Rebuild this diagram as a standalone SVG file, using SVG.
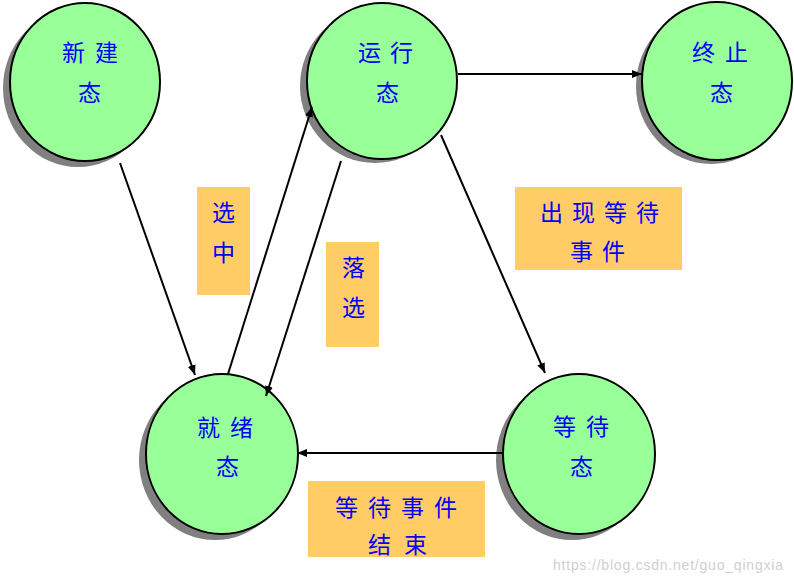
<svg xmlns="http://www.w3.org/2000/svg" width="794" height="581" viewBox="0 0 794 581">
<style>
.sh{fill:#808080}
.st{fill:#99FF99;stroke:#000;stroke-width:2}
.t{font-family:"Noto Sans CJK SC","Noto Sans CJK JP",sans-serif;font-size:23px;fill:#0000FF}
.box{fill:#FFCC66}
.ln{stroke:#000;stroke-width:2;fill:none;marker-end:url(#ah)}
</style>
<defs>
<marker id="ah" viewBox="0 0 10 8" refX="10" refY="4" markerWidth="10" markerHeight="8" markerUnits="userSpaceOnUse" orient="auto">
<path d="M0,0 L10,4 L0,8 Z" fill="#000"/>
</marker>
</defs>
<rect width="794" height="581" fill="#fff"/>
<g id="labels">
<g id="lbl-xuanzhong"><rect class="box" x="197" y="187" width="53" height="108"/><text class="t" x="212" y="221">选</text><text class="t" x="212" y="261">中</text></g>
<g id="lbl-luoxuan"><rect class="box" x="326" y="242" width="53" height="105"/><text class="t" x="342" y="276">落</text><text class="t" x="342" y="316">选</text></g>
<g id="lbl-chuxian"><rect class="box" x="515" y="187" width="167" height="83"/><text class="t" x="540 572 604 636" y="221">出现等待</text><text class="t" x="570 602" y="260">事件</text></g>
<g id="lbl-jieshu"><rect class="box" x="308" y="481" width="177" height="76"/><text class="t" x="335 368 401 434" y="516">等待事件</text><text class="t" x="368 404" y="553">结束</text></g>
</g>
<g id="n-xinjian"><ellipse class="sh" cx="78" cy="88" rx="75" ry="79"/><ellipse class="st" cx="85" cy="82" rx="75" ry="79"/><text class="t" x="62 95" y="61">新建</text><text class="t" x="78" y="101">态</text></g>
<g id="n-yunxing"><ellipse class="sh" cx="375" cy="86" rx="75" ry="77"/><ellipse class="st" cx="382" cy="81" rx="75" ry="78"/><text class="t" x="358 390" y="61">运行</text><text class="t" x="376" y="101">态</text></g>
<g id="n-zhongzhi"><ellipse class="sh" cx="711" cy="86" rx="75" ry="78"/><ellipse class="st" cx="717" cy="81" rx="75" ry="79"/><text class="t" x="692 725" y="61">终止</text><text class="t" x="710" y="101">态</text></g>
<g id="n-jiuxu"><ellipse class="sh" cx="215" cy="460" rx="76" ry="80"/><ellipse class="st" cx="222" cy="454" rx="76" ry="80"/><text class="t" x="197 230" y="436">就绪</text><text class="t" x="216" y="475">态</text></g>
<g id="n-dengdai"><ellipse class="sh" cx="572" cy="460" rx="76" ry="80"/><ellipse class="st" cx="579" cy="454" rx="76" ry="80"/><text class="t" x="553 586" y="435">等待</text><text class="t" x="570" y="475">态</text></g>
<g id="connectors">
<line class="ln" x1="120" y1="163" x2="195" y2="375"/>
<line class="ln" x1="228" y1="374" x2="312" y2="107"/>
<line class="ln" x1="341" y1="161" x2="266" y2="396"/>
<line class="ln" x1="441" y1="135" x2="545" y2="373"/>
<line class="ln" x1="458" y1="74" x2="642" y2="74"/>
<line class="ln" x1="502" y1="453" x2="297" y2="453"/>
</g>
<text x="553" y="570" font-family="Liberation Sans, Arial, sans-serif" font-size="14" fill="#d0d0d0" textLength="230">https://blog.csdn.net/guo_qingxia</text>
</svg>
